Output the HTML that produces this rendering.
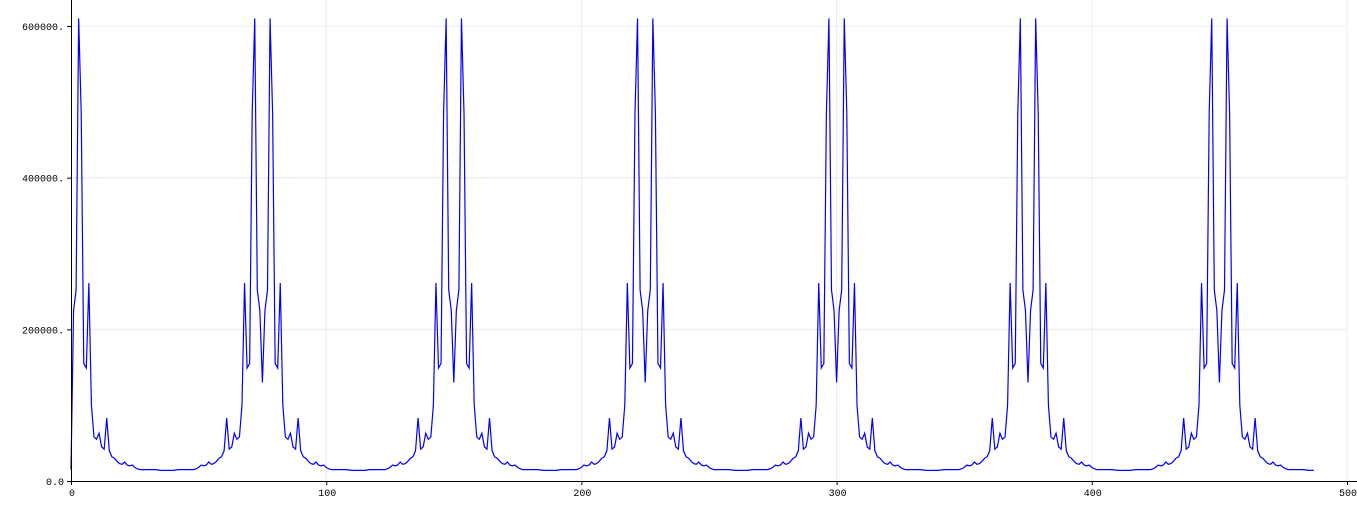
<!DOCTYPE html>
<html><head><meta charset="utf-8"><style>
body{margin:0;background:#fff}
svg{display:block}
text{font-family:"Liberation Mono","DejaVu Sans Mono",monospace;font-size:10px;fill:#000}
</style></head><body>
<svg id="chart" width="1357" height="506" xmlns="http://www.w3.org/2000/svg"></svg>
<script>
const A=[225000,252000,610000,485000,155000,149000,261000,100000,58000,55000,63000,45000,42000,83000,40000,32000,30000,26000,23000,22000,25000,21000,20000,21000,18000,16000,15000,15000,15000,15000,15000,15000,15000,14500,14000,14000,14000];
const B=[14000,14000,14000,14500,15000,15000,15000,15000,15000,15000,15000,16000,18000,21000,20000,21000,25000,22000,23000,26000,30000,32000,40000,83000,42000,45000,63000,55000,58000,100000,261000,149000,155000,485000,610000,252000,225000];
const values=[15000].concat(A,B,[130000],A,B,[130000],A,B,[130000],A,B,[130000],A,B,[130000],A,B,[130000],A);
const xTicks=[0,100,200,300,400,500];
const yTicks=[0,200000,400000,600000];
const yLabels=["0.0","200000.","400000.","600000."];

const svg=document.getElementById('chart');
const NS='http://www.w3.org/2000/svg';
const X0=71,X1=1347,Y0=481,Y1=26;
const xs=v=>X0+(v-0)/500*(X1-X0);
const ys=v=>Y0-v/600000*(Y0-Y1);
function mk(t,a,p){const e=document.createElementNS(NS,t);for(const k in a)e.setAttribute(k,a[k]);(p||svg).appendChild(e);return e;}

const grid=mk('g',{});


xTicks.forEach(v=>{if(v>0)mk('line',{x1:xs(v),x2:xs(v),y1:0,y2:Y0,stroke:'#ececec','stroke-width':1},grid);});
yTicks.forEach(v=>{if(v>0)mk('line',{x1:X0,x2:X1,y1:ys(v),y2:ys(v),stroke:'#ececec','stroke-width':1},grid);});

const pts=values.map((v,i)=>xs(i).toFixed(2)+','+ys(v).toFixed(2)).join(' ');
const line=mk('polyline',{points:pts,fill:'none',stroke:'#0000ff','stroke-width':1.2});



const xa=mk('g',{});


mk('line',{x1:X0-4,x2:X1+10,y1:Y0+0.5,y2:Y0+0.5,stroke:'#000','stroke-width':1},xa);
xTicks.forEach(v=>{
  mk('line',{x1:xs(v)+0.5,x2:xs(v)+0.5,y1:Y0,y2:Y0+4,stroke:'#000'},xa);
  const t=mk('text',{x:xs(v)+1,y:Y0+15,'text-anchor':'middle'},xa);
  t.textContent=v;
  
  
});
const ya=mk('g',{});


mk('line',{x1:X0+0.5,x2:X0+0.5,y1:0,y2:Y0+4,stroke:'#000','stroke-width':1},ya);
yTicks.forEach((v,i)=>{
  mk('line',{x1:X0-4,x2:X0,y1:ys(v)+0.5,y2:ys(v)+0.5,stroke:'#000'},ya);
  const t=mk('text',{x:X0-7,y:ys(v)+4,'text-anchor':'end'},ya);
  t.textContent=yLabels[i];
  
  
});
</script>
</body></html>
